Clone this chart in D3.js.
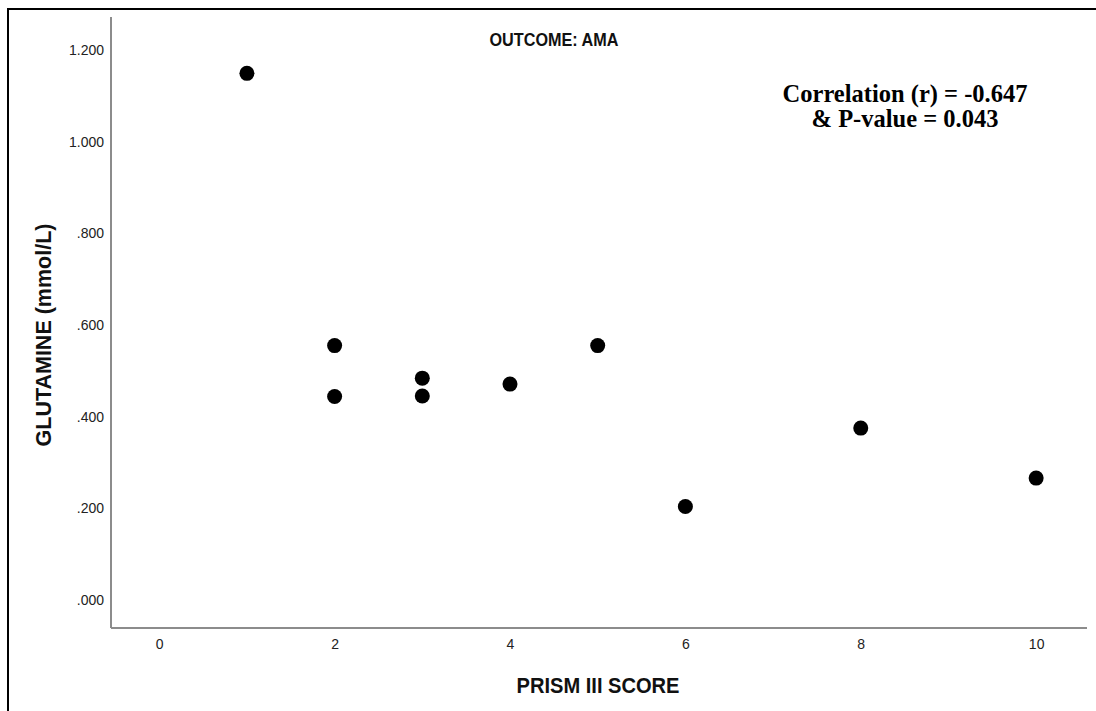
<!DOCTYPE html>
<html>
<head>
<meta charset="utf-8">
<script src="https://cdn.jsdelivr.net/npm/d3@7"></script>
<style>
  html, body { margin: 0; padding: 0; background: #fff; }
  svg { display: block; }
</style>
</head>
<body>
<svg id="chart" width="1096" height="711"></svg>
<script>
// ---- data ----
const prismScore = [1, 2, 2, 3, 3, 4, 5, 6, 8, 10];
const glutamine  = [1.149, 0.555, 0.444, 0.484, 0.445, 0.471, 0.555, 0.204, 0.375, 0.266];
const yTickValues = [0, 0.2, 0.4, 0.6, 0.8, 1.0, 1.2];
const yTickLabels = [".000", ".200", ".400", ".600", ".800", "1.000", "1.200"];
const xTickValues = [0, 2, 4, 6, 8, 10];
const xTickLabels = ["0", "2", "4", "6", "8", "10"];
const titleText = "OUTCOME: AMA";
const annotationLines = ["Correlation (r) = -0.647", "& P-value = 0.043"];
const xTitle = "PRISM III SCORE";
const yTitle = "GLUTAMINE (mmol/L)";

// ---- layout ----
const svg = d3.select("#chart");
const plotLeft = 111, plotRight = 1087, plotTop = 17, plotBottom = 628;

const x = d3.scaleLinear().domain([-0.55, 10.58]).range([plotLeft, plotRight]);
const y = d3.scaleLinear().domain([-0.0611, 1.272]).range([plotBottom, plotTop]);

// outer frame
svg.append("rect")
  .attr("x", 8).attr("y", 9)
  .attr("width", 1100).attr("height", 720)
  .attr("fill", "none").attr("stroke", "#000").attr("stroke-width", 2);

// axes
const yAxis = d3.axisLeft(y)
  .tickValues(yTickValues)
  .tickSize(0)
  .tickPadding(7)
  .tickFormat((d, i) => yTickLabels[i]);
const yg = svg.append("g").attr("transform", `translate(${plotLeft},0)`).call(yAxis);
yg.select(".domain").attr("d", `M0,${plotTop}V${plotBottom}`).attr("stroke", "#8c8c8c").attr("stroke-width", 2);
yg.selectAll("text").attr("font-family", "Liberation Sans, Arial, sans-serif")
  .attr("font-size", 14).attr("fill", "#222");

const xAxis = d3.axisBottom(x)
  .tickValues(xTickValues)
  .tickSize(0)
  .tickPadding(11)
  .tickFormat((d, i) => xTickLabels[i]);
const xg = svg.append("g").attr("transform", `translate(0,${plotBottom})`).call(xAxis);
xg.select(".domain").attr("d", `M${plotLeft},0H${plotRight}`).attr("stroke", "#8c8c8c").attr("stroke-width", 2);
xg.selectAll("text").attr("font-family", "Liberation Sans, Arial, sans-serif")
  .attr("font-size", 14).attr("fill", "#222");

// points
svg.append("g").selectAll("circle")
  .data(prismScore.map((v, i) => [v, glutamine[i]]))
  .join("circle")
  .attr("cx", d => x(d[0]))
  .attr("cy", d => y(d[1]))
  .attr("r", 7.5)
  .attr("fill", "#000");

// title
svg.append("text")
  .attr("x", 554).attr("y", 46)
  .attr("text-anchor", "middle")
  .attr("font-family", "Liberation Sans, Arial, sans-serif")
  .attr("font-weight", "bold")
  .attr("font-size", 18.5)
  .attr("textLength", 129)
  .attr("lengthAdjust", "spacingAndGlyphs")
  .attr("fill", "#111")
  .text(titleText);

// annotation
svg.append("g").selectAll("text")
  .data(annotationLines)
  .join("text")
  .attr("x", 905)
  .attr("y", (d, i) => 102 + i * 25)
  .attr("text-anchor", "middle")
  .attr("font-family", "Liberation Serif, Times New Roman, serif")
  .attr("font-weight", "bold")
  .attr("font-size", 24.5)
  .attr("fill", "#000")
  .text(d => d);

// axis titles
svg.append("text")
  .attr("x", 598).attr("y", 693)
  .attr("text-anchor", "middle")
  .attr("font-family", "Liberation Sans, Arial, sans-serif")
  .attr("font-weight", "bold")
  .attr("font-size", 21.5)
  .attr("textLength", 163)
  .attr("lengthAdjust", "spacingAndGlyphs")
  .attr("fill", "#111")
  .text(xTitle);

svg.append("text")
  .attr("transform", "translate(51,335) rotate(-90)")
  .attr("text-anchor", "middle")
  .attr("font-family", "Liberation Sans, Arial, sans-serif")
  .attr("font-weight", "bold")
  .attr("font-size", 21.5)
  .attr("fill", "#111")
  .text(yTitle);
</script>
</body>
</html>
